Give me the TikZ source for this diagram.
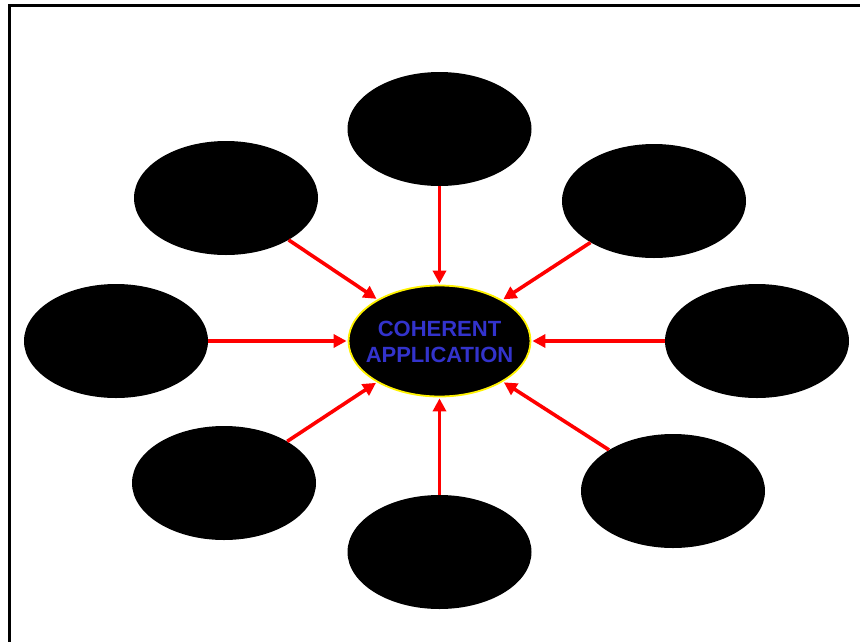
\documentclass[tikz,border=0pt]{standalone}
\usepackage{fontspec}
\setmainfont{Liberation Sans}
\usetikzlibrary{arrows.meta,shapes.geometric}
\definecolor{txtblue}{RGB}{51,51,204}
\begin{document}
\begin{tikzpicture}[x=1pt,y=-1pt,
  blob/.style={ellipse,fill=black,minimum width=184pt,minimum height=114pt,inner sep=0pt},
  hub/.style={ellipse,fill=black,draw=yellow,line width=1.8pt,minimum width=182pt,minimum height=111pt,inner sep=0pt},
  hubtext/.style={text=txtblue,font=\fontsize{22}{26}\selectfont\bfseries,align=center,inner sep=0pt},
  feed/.style={draw=red,line width=3.6pt,-{Triangle[length=13pt,width=13pt]},shorten >=1pt}]
\useasboundingbox (0,0) rectangle (860,641);
\draw[line width=3pt] (9,700) -- (9,5.5) -- (900,5.5);
\node[hub] (c) at (439.5,341) {};
\node[hubtext] (ct) at (439.5,342) {COHERENT\\APPLICATION};
\node[blob] (t) at (439.5,129) {};
\node[blob] (tl) at (226,198) {};
\node[blob] (tr) at (654,201) {};
\node[blob] (l) at (116,341) {};
\node[blob] (r) at (757,341) {};
\node[blob] (bl) at (224,483) {};
\node[blob] (b) at (439.5,552) {};
\node[blob] (br) at (673,491) {};
\foreach \n in {t,tl,tr,l,r,bl,b,br} \draw[feed] (\n) -- (c);
\end{tikzpicture}
\end{document}
